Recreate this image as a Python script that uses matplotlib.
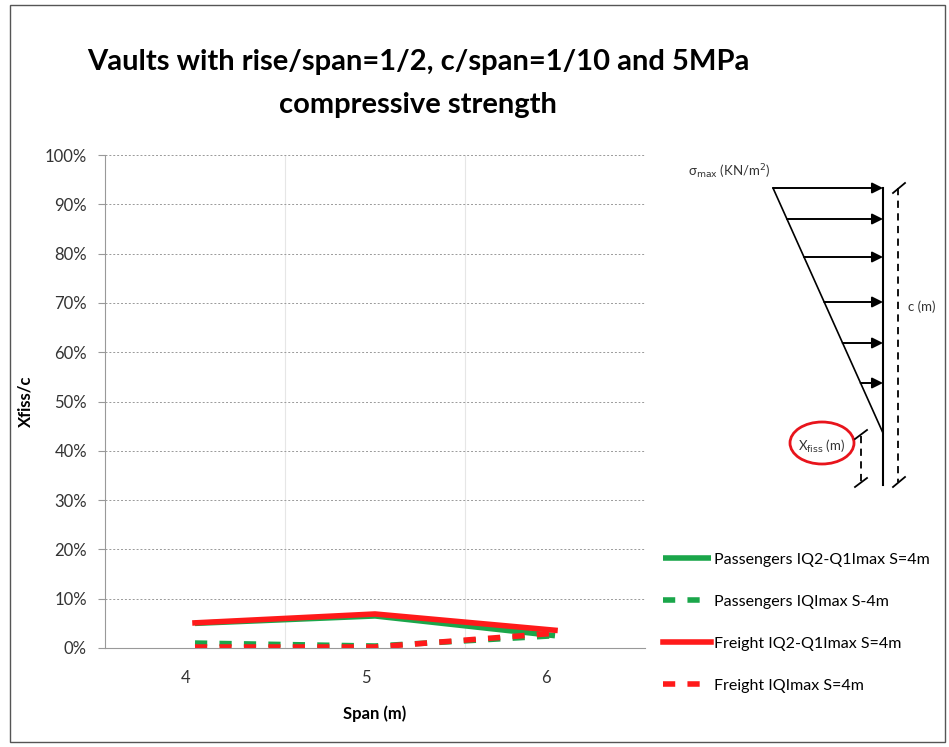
import matplotlib
matplotlib.use("Agg")
import matplotlib.pyplot as plt
from matplotlib.patches import Ellipse, Rectangle

plt.rcParams['font.family'] = ['Lato', 'DejaVu Sans']

spans = [4, 5, 6]
span_labels = ["4", "5", "6"]
pass_q2q1 = [0.050, 0.065, 0.025]
pass_qmax = [0.010, 0.004, 0.025]
freight_q2q1 = [0.051, 0.069, 0.036]
freight_qmax = [0.002, 0.002, 0.030]
series_names = ["Passengers IQ2-Q1Imax S=4m", "Passengers IQImax S-4m",
                "Freight IQ2-Q1Imax S=4m", "Freight IQImax S=4m"]
yticks = [0, 0.1, 0.2, 0.3, 0.4, 0.5, 0.6, 0.7, 0.8, 0.9, 1.0]

W, H = 949, 747
fig = plt.figure(figsize=(W / 100, H / 100), dpi=100)

ax = fig.add_axes([105 / W, 1 - 648 / H, 540 / W, 493 / H])
green = "#1aa64a"
red = "#ff1a1a"
l1, = ax.plot(spans, pass_q2q1, color=green, lw=4, solid_capstyle='butt')
l2, = ax.plot(spans, pass_qmax, color=green, lw=4, ls=(0, (2.2, 2.2)))
l3, = ax.plot(spans, freight_q2q1, color=red, lw=4)
l4, = ax.plot(spans, freight_qmax, color=red, lw=4, ls=(0, (2.2, 2.2)))

ax.set_xlim(3.5, 6.5)
ax.set_ylim(0, 1.0)
ax.set_yticks(yticks)
ax.set_yticklabels([f"{int(round(v * 100))}%" for v in yticks], fontsize=12, color="#333333")
# category labels in the reference sit slightly left of the data points
ax.set_xticks([s - 0.05 for s in spans])
ax.set_xticklabels(span_labels, fontsize=12, color="#333333")
ax.set_xticks([4.5, 5.5], minor=True)
ax.tick_params(axis='x', which='both', length=0, pad=16)
ax.tick_params(axis='y', length=5, color="#999999", pad=8)
ax.grid(axis='y', color="#999999", ls=(0, (2, 2)), lw=0.7)
ax.grid(axis='x', which='minor', color="#e6e6e6", lw=0.8)
ax.grid(axis='x', which='major', visible=False)
for s in ['top', 'right']:
    ax.spines[s].set_visible(False)
for s in ['left', 'bottom']:
    ax.spines[s].set_color("#999999")
ax.set_xlabel("Span (m)", fontsize=12, fontweight='bold', labelpad=14)
ax.set_ylabel("Xfiss/c", fontsize=12, fontweight='bold')
ax.yaxis.set_label_coords((33 - 105) / 540, 0.5)

fig.text(418 / W, 1 - 62 / H, "Vaults with rise/span=1/2, c/span=1/10 and 5MPa",
         ha='center', va='center', fontsize=21, fontweight='bold')
fig.text(418 / W, 1 - 105 / H, "compressive strength",
         ha='center', va='center', fontsize=21, fontweight='bold')

leg = fig.legend([l1, l2, l3, l4], series_names, loc='upper left',
                 bbox_to_anchor=(657 / W, 1 - 546 / H), frameon=False,
                 fontsize=11.5, handlelength=3.0, handletextpad=0.2,
                 labelspacing=1.75, borderaxespad=0)

# overlay for diagram and frame
ov = fig.add_axes([0, 0, 1, 1], zorder=5)
ov.set_xlim(0, W)
ov.set_ylim(H, 0)
ov.axis('off')
ov.patch.set_alpha(0)
ov.add_patch(Rectangle((10, 5), 935, 737, fill=False, ec="#555555", lw=1))

x_top, y_top = 773, 188
x_v, y_bot = 883, 433
ov.plot([x_v, x_v], [y_top, 485], color='black', lw=1.5)
ov.plot([x_top, x_v], [y_top, y_bot], color='black', lw=1.2)
for y in [188, 219, 257, 302, 343, 383]:
    x0 = x_top + (x_v - x_top) * (y - y_top) / (y_bot - y_top)
    ov.annotate("", xy=(x_v, y), xytext=(x0, y),
                arrowprops=dict(arrowstyle='-|>', color='black', lw=1.4,
                                mutation_scale=16, shrinkA=0, shrinkB=0))
ov.plot([898, 898], [188, 482], color='black', lw=1.3, ls=(0, (4, 3)))
ov.plot([893, 905], [193, 183], color='black', lw=1.3)
ov.plot([893, 905], [487, 477], color='black', lw=1.3)
ov.plot([861, 861], [436, 483], color='black', lw=1.3, ls=(0, (4, 3)))
ov.plot([855, 867], [439, 430], color='black', lw=1.3)
ov.plot([855, 867], [487, 478], color='black', lw=1.3)
ov.text(908, 307, "c (m)", fontsize=9.5, va='center', ha='left', color='#333333')
ov.text(688, 172, r"σ$_{\rm max}$ (KN/m$^2$)", fontsize=9.5, va='center', ha='left', color='#333333')
ov.text(822, 446, r"X$_{\rm fiss}$ (m)", fontsize=9.5, va='center', ha='center', color='#333333')
ov.add_patch(Ellipse((822, 443), 64, 42, fill=False, ec='#e8141c', lw=2))

fig.savefig("out.png", dpi=100)
